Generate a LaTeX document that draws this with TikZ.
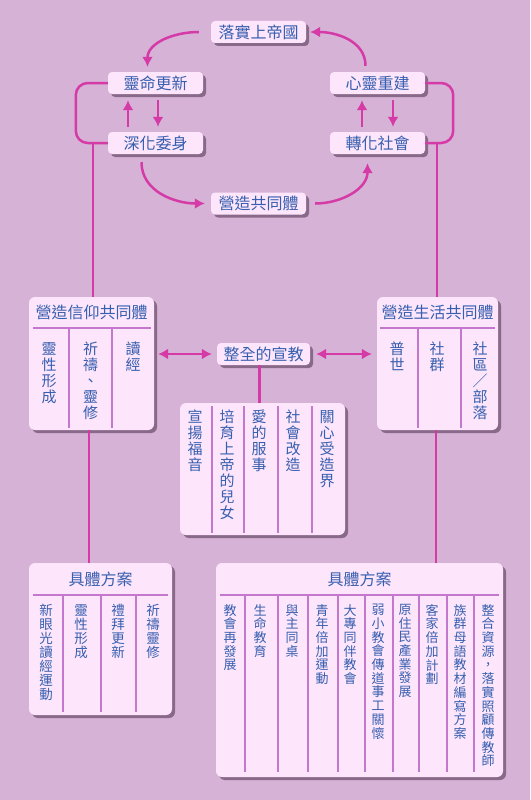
\documentclass[tikz,border=0pt]{standalone}
\usepackage{fontspec}
\setmainfont{Noto Sans CJK TC}
\usepackage{tikz}
\usetikzlibrary{shapes,arrows,arrows.meta,shadows}
\definecolor{bgpurple}{RGB}{214,178,214}
\definecolor{boxpink}{RGB}{253,230,251}
\definecolor{inkblue}{RGB}{55,95,175}
\definecolor{arrowpink}{RGB}{213,58,166}
\definecolor{linepurple}{RGB}{195,120,205}
\definecolor{shadowgray}{RGB}{105,75,105}
\tikzstyle{link} = [draw, arrowpink, line width=2.5pt]
\tikzstyle{flow} = [link, -{Latex[length=10pt,width=11pt]}]
\tikzstyle{both} = [link, {Latex[length=10pt,width=11pt]}-{Latex[length=10pt,width=11pt]}]
\tikzstyle{tag} = [fill=boxpink, text=inkblue, rounded corners=4pt, minimum width=95pt, minimum height=22pt, inner sep=0pt, font=\fontsize{16}{18}\selectfont, drop shadow={shadow xshift=3pt, shadow yshift=-3pt, fill=shadowgray, opacity=0.7}]
\tikzstyle{panel} = [fill=boxpink, rounded corners=6pt, inner sep=0pt, drop shadow={shadow xshift=3pt, shadow yshift=-3pt, fill=shadowgray, opacity=0.7}]
\tikzstyle{head} = [text=inkblue, inner sep=0pt, font=\fontsize{16}{18}\selectfont]
\tikzstyle{col} = [anchor=north, align=center, text=inkblue, inner sep=0pt, font=\fontsize{15}{16}\selectfont]
\tikzstyle{colsm} = [col, font=\fontsize{13}{13.7}\selectfont]
\tikzstyle{divider} = [draw, linepurple, line width=1.5pt]

\begin{document}
\begin{tikzpicture}[x=1pt,y=1pt]
  \fill[bgpurple] (0,0) rectangle (530,-800);

  % cycle
  \node[tag] (kingdom) at (258.5,-32) {落實上帝國};
  \node[tag] (renew) at (155.5,-83) {靈命更新};
  \node[tag] (commit) at (155.5,-143) {深化委身};
  \node[tag] (heart) at (377.5,-83) {心靈重建};
  \node[tag] (transform) at (377.5,-143) {轉化社會};
  \node[tag] (together) at (258.5,-203.5) {營造共同體};

  \draw[flow] ([xshift=-12pt]kingdom.west) to[out=180,in=90] ([xshift=-8pt,yshift=5pt]renew.north);
  \draw[flow] ([xshift=-12pt,yshift=6pt]heart.north) to[out=90,in=0] ([xshift=4pt]kingdom.east);
  \draw[flow] ([xshift=-14pt,yshift=-8pt]commit.south) to[out=270,in=180] ([xshift=-6pt]together.west);
  \draw[flow] ([xshift=9pt]together.east) to[out=0,in=270] ([xshift=-10pt,yshift=-9pt]transform.south);

  \draw[flow] ([xshift=-27.5pt,yshift=5pt]commit.north) -- ([xshift=-27.5pt,yshift=-6pt]renew.south);
  \draw[flow] ([xshift=2.5pt,yshift=-6pt]renew.south) -- ([xshift=2.5pt,yshift=5pt]commit.north);
  \draw[flow] ([xshift=-15.5pt,yshift=5pt]transform.north) -- ([xshift=-15.5pt,yshift=-6pt]heart.south);
  \draw[flow] ([xshift=15.5pt,yshift=-6pt]heart.south) -- ([xshift=15.5pt,yshift=5pt]transform.north);

  % side brackets
  \draw[link, rounded corners=12pt] (renew.west) -- ++(-32,0) |- (commit.west);
  \draw[link, rounded corners=12pt] (heart.east) -- ++(28,0) |- (transform.east);

  % community panels
  \node[panel, minimum width=125pt, minimum height=133pt] (faith) at (91.5,-363.5) {};
  \node[head] (faithhead) at ([yshift=-16pt]faith.north) {營造信仰共同體};
  \draw[divider] (33,-328) -- (151,-328);
  \draw[divider] (69,-328) -- (69,-428) (112,-328) -- (112,-428);
  \node[col] (f1) at (49,-342) {靈\\性\\形\\成};
  \node[col] (f2) at (90.5,-342) {祈\\禱\\、\\靈\\修};
  \node[col] (f3) at (133,-342) {讀\\經};

  \node[panel, minimum width=121pt, minimum height=133pt] (life) at (437.5,-363.5) {};
  \node[head] (lifehead) at ([yshift=-16pt]life.north) {營造生活共同體};
  \draw[divider] (380,-328) -- (495,-328);
  \draw[divider] (418,-328) -- (418,-428) (461,-328) -- (461,-428);
  \node[col] (l1) at (397,-342) {普\\世};
  \node[col] (l2) at (437,-342) {社\\群};
  \node[col] (l3) at (480,-342) {社\\區\\／\\部\\落};

  \draw[link] ([xshift=-15pt]commit.west) -- ([xshift=-15pt]commit.west |- faith.north);
  \draw[link] ([xshift=12pt]transform.east) -- ([xshift=12pt]transform.east |- life.north);

  % integral mission
  \node[tag, minimum width=93pt] (mission) at (263.5,-354) {整全的宣教};
  \draw[both] ([xshift=4pt]faith.east |- mission.west) -- ([xshift=-5pt]mission.west);
  \draw[both] ([xshift=6pt]mission.east) -- ([xshift=-5pt]life.west |- mission.east);

  \node[panel, minimum width=165pt, minimum height=132pt] (areas) at (262.5,-469) {};
  \draw[link] ([xshift=-4pt]mission.south) -- ([xshift=-4pt]mission.south |- areas.north);
  \draw[divider] (212,-406) -- (212,-533) (244,-406) -- (244,-533) (278,-406) -- (278,-533) (312,-406) -- (312,-533);
  \node[col] (a1) at (195,-410) {宣\\揚\\福\\音};
  \node[col] (a2) at (227,-410) {培\\育\\上\\帝\\的\\兒\\女};
  \node[col] (a3) at (259,-410) {愛\\的\\服\\事};
  \node[col] (a4) at (293,-410) {社\\會\\改\\造};
  \node[col] (a5) at (327,-410) {關\\心\\受\\造\\界};

  % concrete plans
  \node[panel, minimum width=143pt, minimum height=152pt] (faithplan) at (100.5,-639) {};
  \node[head] (faithplanhead) at ([yshift=-17pt]faithplan.north) {具體方案};
  \draw[divider] (33,-595) -- (168,-595);
  \draw[divider] (63,-595) -- (63,-712) (101,-595) -- (101,-712) (136,-595) -- (136,-712);
  \node[col, font=\fontsize{13.5}{14}\selectfont] (p1) at (46,-604) {新\\眼\\光\\讀\\經\\運\\動};
  \node[col, font=\fontsize{13.5}{14}\selectfont] (p2) at (81,-604) {靈\\性\\形\\成};
  \node[col, font=\fontsize{13.5}{14}\selectfont] (p3) at (118,-604) {禮\\拜\\更\\新};
  \node[col, font=\fontsize{13.5}{14}\selectfont] (p4) at (153,-604) {祈\\禱\\靈\\修};

  \node[panel, minimum width=287pt, minimum height=214pt] (lifeplan) at (359.5,-670) {};
  \node[head] (lifeplanhead) at ([yshift=-17pt]lifeplan.north) {具體方案};
  \draw[divider] (220,-595) -- (499,-595);
  \draw[divider] (245,-595) -- (245,-772) (278,-595) -- (278,-772) (308,-595) -- (308,-772)
    (338,-595) -- (338,-772) (365,-595) -- (365,-772) (393,-595) -- (393,-772)
    (419,-595) -- (419,-772) (447,-595) -- (447,-772) (474,-595) -- (474,-772);
  \node[colsm] (q1) at (230,-604) {教\\會\\再\\發\\展};
  \node[colsm] (q2) at (260,-604) {生\\命\\教\\育};
  \node[colsm] (q3) at (292,-604) {與\\主\\同\\桌};
  \node[colsm] (q4) at (322,-604) {青\\年\\倍\\加\\運\\動};
  \node[colsm] (q5) at (350,-604) {大\\專\\同\\伴\\教\\會};
  \node[colsm] (q6) at (378,-604) {弱\\小\\教\\會\\傳\\道\\事\\工\\關\\懷};
  \node[colsm] (q7) at (405,-604) {原\\住\\民\\產\\業\\發\\展};
  \node[colsm] (q8) at (432,-604) {客\\家\\倍\\加\\計\\劃};
  \node[colsm] (q9) at (460,-604) {族\\群\\母\\語\\教\\材\\編\\寫\\方\\案};
  \node[colsm] (q10) at (488,-604) {整\\合\\資\\源\\，\\落\\實\\照\\顧\\傳\\教\\師};

  \draw[link] ([xshift=-2.5pt]faith.south) -- ([xshift=-2.5pt]faith.south |- faithplan.north);
  \draw[link] ([xshift=-1.5pt]life.south) -- ([xshift=-1.5pt]life.south |- lifeplan.north);
\end{tikzpicture}
\end{document}
